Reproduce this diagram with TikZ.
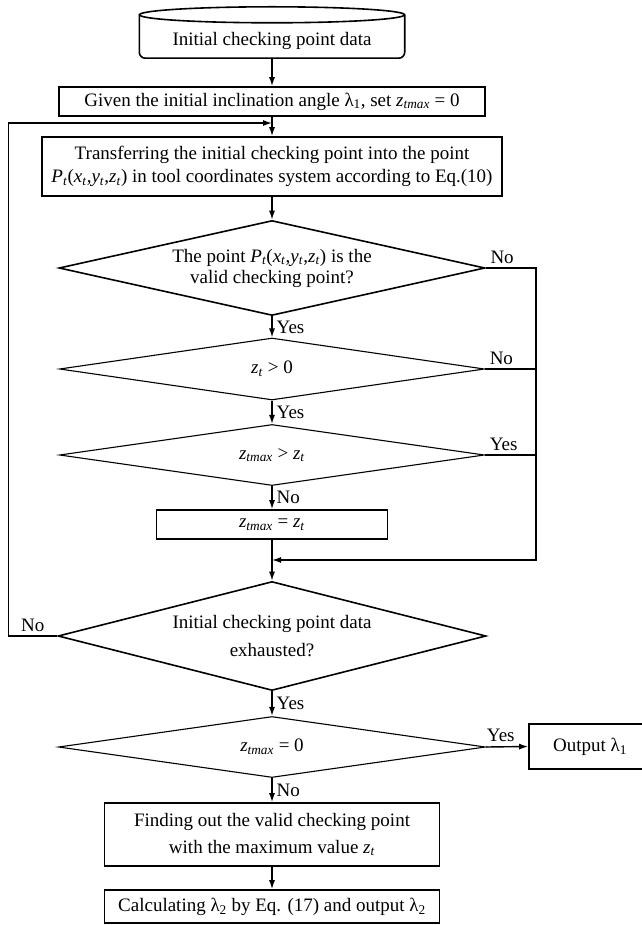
\documentclass[tikz,border=0pt]{standalone}
\usepackage{fontspec}
\setmainfont{Liberation Serif}
\usetikzlibrary{shapes.geometric,arrows.meta}
\newcommand{\vsub}[2]{\textit{#1}\textsubscript{\textit{#2}}}
\newcommand{\ztmax}{\vsub{z}{tmax}}
\newcommand{\Ptxyz}{\vsub{P}{t}(\vsub{x}{t},\vsub{y}{t},\vsub{z}{t})}

\begin{document}
\begin{tikzpicture}[x=1pt,y=-1pt,font=\fontsize{19}{21}\selectfont,
  proc/.style={draw,line width=1.6pt,inner sep=0pt,align=center},
  dec/.style={draw,diamond,line width=1.1pt,inner sep=0pt,align=center},
  lnk/.style={line width=1.4pt},
  lab/.style={inner sep=4pt},
  >={Latex[length=9pt,width=6pt]}]
\useasboundingbox (0,0) rectangle (641,925);
\node[inner sep=0pt,minimum width=265,minimum height=35] (db) at (272,40.5) {Initial checking point data};
\draw[line width=1.6pt] ([yshift=8pt]db.north) ellipse [x radius=132.5pt,y radius=8pt];
\draw[line width=1.6pt,rounded corners=6pt] ([yshift=8pt]db.north west) -- (db.south west) -- (db.south east) -- ([yshift=8pt]db.north east);
\node[proc,minimum width=426,minimum height=29] (given) at (272,101.5) {Given the initial inclination angle λ\textsubscript{1}, set \ztmax{} = 0};
\node[proc,minimum width=460,minimum height=59] (trans) at (272,166.5) {Transferring the initial checking point into the point\\[2pt] \Ptxyz{} in tool coordinates system according to Eq.(10)};
\node[dec,line width=1.6pt,aspect=4.48,minimum width=426,minimum height=95] (valid) at (272,268) {The point \Ptxyz{} is the\\ valid checking point?};
\node[dec,aspect=6.85,minimum width=425,minimum height=62] (pos) at (272,369) {\vsub{z}{t} > 0};
\node[dec,aspect=6.97,minimum width=425,minimum height=61] (cmp) at (272,455) {\ztmax{} > \vsub{z}{t}};
\node[proc,minimum width=231,minimum height=29] (upd) at (272,524.5) {\ztmax{} = \vsub{z}{t}};
\node[dec,line width=1.6pt,aspect=3.93,minimum width=428,minimum height=109] (exh) at (272,636) {Initial checking point data\\[7pt] exhausted?};
\node[dec,aspect=7,minimum width=427,minimum height=61] (zero) at (272,747) {\ztmax{} = 0};
\node[proc,minimum width=122,minimum height=45] (out) at (590,746.5) {Output λ\textsubscript{1}};
\node[proc,minimum width=335,minimum height=63] (find) at (272,834.5) {Finding out the valid checking point\\[6pt] with the maximum value \vsub{z}{t}};
\node[proc,minimum width=335,minimum height=33] (calc) at (272,906.5) {Calculating λ\textsubscript{2} by Eq. (17) and output λ\textsubscript{2}};
\coordinate (loop) at (272,123);
\coordinate (join) at (272,560);
\draw[lnk,->] (db.south) -- (given.north);
\draw[lnk,->] (given.south) -- (trans.north);
\draw[lnk,->] (trans.south) -- (valid.north);
\draw[lnk,->] (valid.south) -- node[right,lab] {Yes} (pos.north);
\draw[lnk,->] (pos.south) -- node[right,lab] {Yes} (cmp.north);
\draw[lnk,->] (cmp.south) -- node[right,lab] {No} (upd.north);
\draw[lnk,->] (upd.south) -- (exh.north);
\draw[lnk,->] (exh.south) -- node[right,lab] {Yes} (zero.north);
\draw[lnk,->] (zero.south) -- node[right,lab] {No} (find.north);
\draw[lnk,->] (find.south) -- (calc.north);
\draw[lnk,->] (valid.east) node[above right,lab] {No} -- ++(50,0) |- (join);
\draw[lnk] (pos.east) node[above right,lab] {No} -- ++(50,0);
\draw[lnk] (cmp.east) node[above right,lab] {Yes} -- ++(50,0);
\draw[lnk,->] (exh.west) -- node[above,lab] {No} ++(-49,0) |- (loop);
\draw[lnk,->] (zero.east) -- node[above,lab,pos=0.35] {Yes} (out.west);
\end{tikzpicture}
\end{document}
